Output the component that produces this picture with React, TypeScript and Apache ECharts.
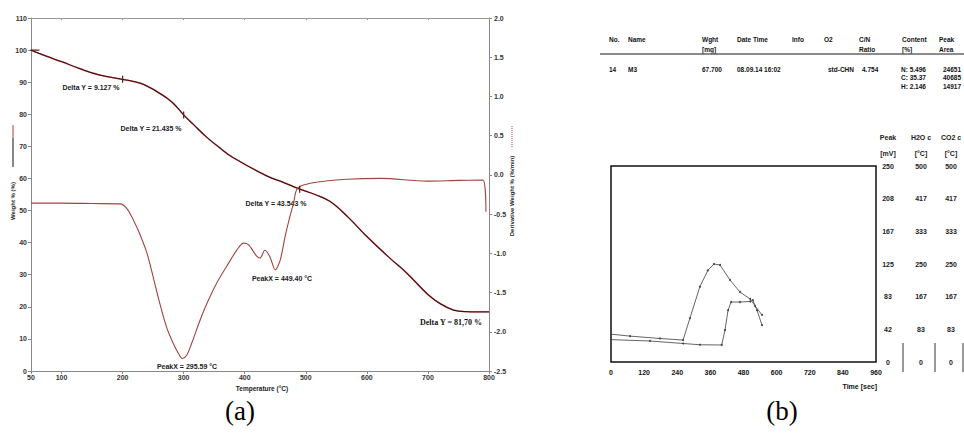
import React, { useEffect, useRef } from "react";
import * as echarts from "echarts";

// ---------- (a) TGA / DTG ----------
const tgaTemp = [50, 75, 100, 130, 163, 200, 230, 261, 282, 300, 315, 338, 360, 380, 436, 463, 488, 515, 540, 570, 600, 638, 666, 699, 720, 742, 763, 800];
const tgaWeight = [100, 98.1, 96.4, 94.2, 92.2, 90.9, 89.6, 86.5, 83.6, 79.8, 77.0, 72.8, 69.4, 66.6, 60.8, 58.8, 56.8, 55.0, 52.8, 47.8, 41.9, 35.1, 30.4, 24.0, 21.0, 19.0, 18.5, 18.4];

const dtgTemp = [50, 100, 150, 196, 207, 218, 228, 240, 250, 261, 272, 283, 291, 298, 305, 313, 327, 338, 354, 370, 387, 398, 406, 420, 425, 433, 441, 450, 458, 466, 474, 480, 485, 496, 523, 567, 622, 698, 750, 790, 795];
const dtgRate = [-0.36, -0.36, -0.365, -0.37, -0.43, -0.58, -0.75, -1.0, -1.30, -1.64, -1.94, -2.15, -2.27, -2.34, -2.30, -2.15, -1.85, -1.64, -1.38, -1.17, -0.96, -0.87, -0.89, -1.04, -1.06, -0.96, -1.04, -1.21, -1.09, -0.79, -0.53, -0.36, -0.19, -0.13, -0.087, -0.056, -0.044, -0.08, -0.07, -0.065, -0.47];

const tempTicks = [50, 100, 200, 300, 400, 500, 600, 700, 800];
const stepMarks = [[200, 90.9], [300, 79.8], [490, 56.6]];

const annotations = [
  { text: "Delta Y = 9.127 %", x: 91, y: 87 },
  { text: "Delta Y = 21.435 %", x: 151, y: 128 },
  { text: "Delta Y = 43.543 %", x: 276, y: 203 },
  { text: "PeakX = 449.40 °C", x: 282, y: 278 },
  { text: "PeakX = 295.59 °C", x: 187, y: 366 },
];

// ---------- (b) CHN analyser ----------
const timeUpper = [0, 69, 177, 261, 286, 322, 351, 373, 395, 431, 467, 504, 522, 547];
const mvUpper = [35.5, 33, 30, 28, 56, 96, 117, 125, 123.7, 104.6, 89.3, 80.4, 71.4, 60];
const timeLower = [0, 141, 261, 322, 401, 413, 424, 435, 467, 504, 514, 529, 547];
const mvLower = [28.5, 26.8, 23.6, 22, 21.7, 40.8, 66, 76.5, 76.5, 77.2, 79, 66, 47];

const signalCols = ["Peak\n[mV]", "H2O c\n[°C]", "CO2 c\n[°C]"];
const signalMax = [250, 500, 500];

const headerCols = ["No.", "Name", "Wght\n[mg]", "Date Time", "Info", "O2", "C/N\nRatio", "Content\n[%]", "Peak\nArea"];
const rowValues = ["14", "M3", "67.700", "08.09.14 16:02", "", "std-CHN", "4.754", "N: 5.496\nC: 35.37\nH: 2.146", "24651\n40685\n14917"];

const SANS = "'Liberation Sans Narrow', 'Liberation Sans', Arial, sans-serif";
const SERIF = "'Liberation Serif', 'Times New Roman', serif";

export default function App() {
  const ref = useRef<HTMLDivElement>(null);

  useEffect(() => {
    if (!ref.current) return;
    const chart = echarts.init(ref.current, undefined, { renderer: "svg" });

    const headerX = [609, 628, 702, 737, 792, 824, 859, 902, 939];
    const rowX = [609, 628, 702, 737, 792, 828, 862, 901, 943];
    const colOffsets = [12, 45, 75];

    const txt = (text: string, x: number, y: number, extra: any = {}) => ({
      type: "text",
      x,
      y,
      silent: true,
      style: {
        text,
        fontSize: 7,
        fontWeight: "bold",
        fontFamily: SANS,
        fill: "#222",
        align: "center",
        verticalAlign: "middle",
        ...extra,
      },
    });

    const graphics: any[] = [];
    annotations.forEach((a) => graphics.push(txt(a.text, a.x, a.y, { fill: "#1a1a1a" })));
    graphics.push(txt("Delta Y = 81,70 %", 451, 322, { fontFamily: SERIF, fontSize: 8, fill: "#111" }));

    // left axis name with legend line
    graphics.push({
      type: "text", x: 13, y: 201, rotation: Math.PI / 2, silent: true,
      style: { text: "Weight % (%)", fontSize: 6, fontWeight: "bold", fontFamily: SANS, fill: "#222", align: "center", verticalAlign: "middle" },
    });
    graphics.push({ type: "line", silent: true, shape: { x1: 13, y1: 125, x2: 13, y2: 138 }, style: { stroke: "#c0392b", lineWidth: 1 } });
    graphics.push({ type: "line", silent: true, shape: { x1: 13, y1: 138, x2: 13, y2: 167 }, style: { stroke: "#111", lineWidth: 1 } });

    // right axis name with dotted legend line
    graphics.push({
      type: "text", x: 512, y: 196, rotation: Math.PI / 2, silent: true,
      style: { text: "Derivative Weight % (%/min)", fontSize: 6, fontWeight: "bold", fontFamily: SANS, fill: "#222", align: "center", verticalAlign: "middle" },
    });
    graphics.push({ type: "line", silent: true, shape: { x1: 512, y1: 126, x2: 512, y2: 147 }, style: { stroke: "#a0453e", lineWidth: 1, lineDash: [1, 1] } });

    graphics.push(txt("Temperature (°C)", 262, 388, { fontSize: 6.5 }));

    // panel labels
    graphics.push(txt("(a)", 240, 411, { fontFamily: SERIF, fontSize: 27, fontWeight: "normal", fill: "#000" }));
    graphics.push(txt("(b)", 782, 411, { fontFamily: SERIF, fontSize: 27, fontWeight: "normal", fill: "#000" }));

    // (b) header table
    headerCols.forEach((h, i) =>
      graphics.push(txt(h, headerX[i], 35, { align: "left", verticalAlign: "top", lineHeight: 9.5, fontSize: 6.5, fill: "#111" }))
    );
    graphics.push({ type: "line", silent: true, shape: { x1: 600, y1: 54, x2: 964, y2: 54 }, style: { stroke: "#666", lineWidth: 1.3 } });
    rowValues.forEach((v, i) => {
      if (v) graphics.push(txt(v, rowX[i], 65, { align: "left", verticalAlign: "top", lineHeight: 8.4, fontSize: 6.5, fill: "#111" }));
    });

    // signal column headers
    signalCols.forEach((s, i) =>
      graphics.push(txt(s, 876 + colOffsets[i], 145, { lineHeight: 16, fontSize: 7, fill: "#222" }))
    );

    graphics.push(txt("Time [sec]", 877, 386, { align: "right", fontSize: 7, fill: "#111" }));
    [903, 935, 963].forEach((x) =>
      graphics.push({ type: "line", silent: true, shape: { x1: x, y1: 343, x2: x, y2: 372 }, style: { stroke: "#333", lineWidth: 1 } })
    );

    const axisText = { fontSize: 7, fontWeight: "bold", fontFamily: SANS, color: "#333" };

    chart.setOption({
      animation: false,
      backgroundColor: "#fff",
      grid: [
        { left: 31, top: 18, width: 458, height: 353 },
        { left: 611, top: 166, width: 265, height: 196, show: true, borderColor: "#111", borderWidth: 1.5, backgroundColor: "transparent" },
      ],
      xAxis: [
        {
          type: "value", gridIndex: 0, min: 50, max: 800,
          axisLine: { show: true, onZero: false, lineStyle: { color: "#888", width: 1 } },
          axisTick: { show: true, customValues: tempTicks, length: 3, lineStyle: { color: "#888" } },
          axisLabel: { customValues: tempTicks, margin: 3, ...axisText },
          splitLine: { show: false },
        },
        {
          type: "value", gridIndex: 0, position: "top", min: 50, max: 800,
          axisLine: { show: true, onZero: false, lineStyle: { color: "#999", width: 1 } },
          axisTick: { show: true, inside: true, customValues: tempTicks, length: 2, lineStyle: { color: "#999" } },
          axisLabel: { show: false },
          splitLine: { show: false },
        },
        {
          type: "value", gridIndex: 1, min: 0, max: 960, interval: 120,
          axisLine: { show: false, onZero: false },
          axisTick: { show: false },
          axisLabel: { margin: 7, ...axisText, color: "#111" },
          splitLine: { show: false },
        },
      ],
      yAxis: [
        {
          type: "value", gridIndex: 0, min: 0, max: 110, interval: 10,
          axisLine: { show: true, onZero: false, lineStyle: { color: "#888", width: 1 } },
          axisTick: { show: true, length: 3, lineStyle: { color: "#888" } },
          axisLabel: { margin: 4, ...axisText },
          splitLine: { show: false },
        },
        {
          type: "value", gridIndex: 0, position: "right", min: -2.5, max: 2.0, interval: 0.5,
          axisLine: { show: true, onZero: false, lineStyle: { color: "#888", width: 1 } },
          axisTick: { show: true, length: 3, lineStyle: { color: "#888" } },
          axisLabel: { margin: 5, formatter: (v: number) => v.toFixed(1), ...axisText },
          splitLine: { show: false },
        },
        ...signalMax.map((mx, i) => ({
          type: "value", gridIndex: 1, position: "right", offset: colOffsets[i],
          min: 0, max: mx, interval: mx / 6,
          axisLine: { show: false, onZero: false },
          axisTick: { show: false },
          axisLabel: { margin: 0, align: "center", formatter: (v: number) => String(Math.round(v)), ...axisText, color: "#222" },
          splitLine: { show: false },
        })),
      ],
      series: [
        {
          type: "line", xAxisIndex: 0, yAxisIndex: 0, smooth: 0.4, showSymbol: false,
          data: tgaTemp.map((t, i) => [t, tgaWeight[i]]),
          lineStyle: { color: "#4a1010", width: 1.3, shadowColor: "rgba(210,50,50,0.7)", shadowBlur: 1.5 },
          markPoint: {
            silent: true,
            label: { show: false },
            itemStyle: { color: "#5a1a1a" },
            data: [
              { coord: [50, 100], symbol: "rect", symbolSize: [9, 1.2], symbolOffset: [4, 0] },
              ...stepMarks.map((c) => ({ coord: c, symbol: "rect", symbolSize: [1.2, 7] })),
            ],
          },
        },
        {
          type: "line", xAxisIndex: 0, yAxisIndex: 1, smooth: 0.3, showSymbol: false,
          data: dtgTemp.map((t, i) => [t, dtgRate[i]]),
          lineStyle: { color: "#a0453e", width: 1.1 },
        },
        {
          type: "line", xAxisIndex: 2, yAxisIndex: 2, showSymbol: true, symbol: "circle", symbolSize: 2,
          data: timeUpper.map((t, i) => [t, mvUpper[i]]),
          lineStyle: { color: "#666", width: 1 }, itemStyle: { color: "#444" },
        },
        {
          type: "line", xAxisIndex: 2, yAxisIndex: 2, showSymbol: true, symbol: "circle", symbolSize: 2,
          data: timeLower.map((t, i) => [t, mvLower[i]]),
          lineStyle: { color: "#666", width: 1 }, itemStyle: { color: "#444" },
        },
      ],
      graphic: graphics,
    });

    return () => chart.dispose();
  }, []);

  return (
    <div
      ref={ref}
      style={{ position: "absolute", left: 0, top: 0, width: 964, height: 434, background: "#fff" }}
    />
  );
}
